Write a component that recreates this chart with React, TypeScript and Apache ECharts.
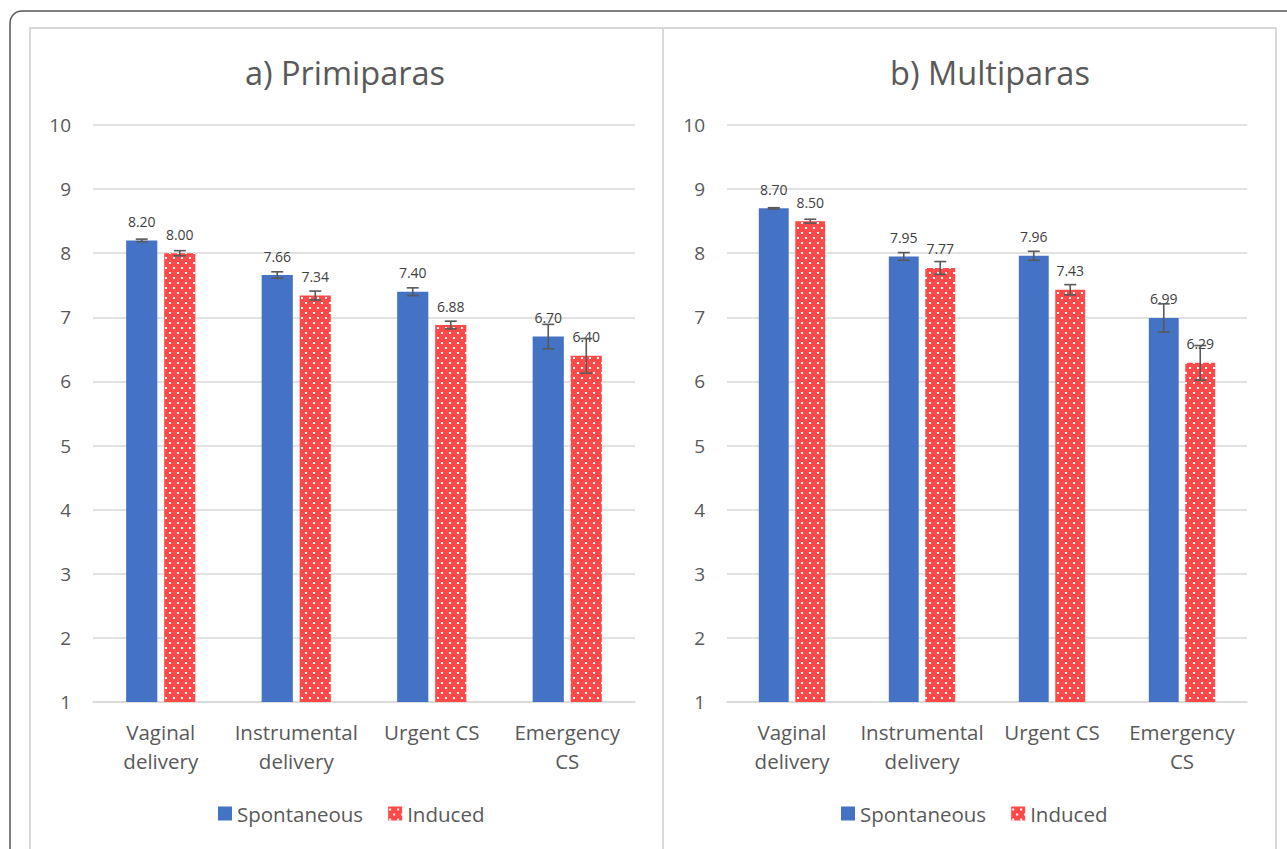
import React, { useEffect, useRef } from "react";
import * as echarts from "echarts";

const categories = ["Vaginal\ndelivery", "Instrumental\ndelivery", "Urgent CS", "Emergency\nCS"];
const seriesNames = ["Spontaneous", "Induced"];
const panelTitles = ["a) Primiparas", "b) Multiparas"];
const yTicks = [1, 10, 1]; // min, max, interval

const primiSpont = [8.2, 7.66, 7.4, 6.7];
const primiInduced = [8.0, 7.34, 6.88, 6.4];
const primiSpontErr = [0.02, 0.05, 0.06, 0.19];
const primiInducedErr = [0.04, 0.07, 0.06, 0.27];

const multiSpont = [8.7, 7.95, 7.96, 6.99];
const multiInduced = [8.5, 7.77, 7.43, 6.29];
const multiSpontErr = [0.01, 0.06, 0.07, 0.22];
const multiInducedErr = [0.03, 0.1, 0.08, 0.27];

const FONT = "'Open Sans', sans-serif";
const BLUE = "#4472C4";
const RED = "#FF4848";
const TEXT = "#595959";
const BAR_FRAC = 0.23;
const GAP_FRAC = 0.22;

function makePattern() {
  const c = document.createElement("canvas");
  c.width = 8;
  c.height = 10;
  const ctx = c.getContext("2d")!;
  ctx.fillStyle = RED;
  ctx.fillRect(0, 0, 8, 10);
  ctx.fillStyle = "#ffffff";
  ctx.fillRect(1, 2, 2, 2);
  ctx.fillRect(5, 7, 2, 2);
  return c;
}

export default function App() {
  const ref = useRef<HTMLDivElement>(null);
  useEffect(() => {
    if (!ref.current) return;
    const chart = echarts.init(ref.current, undefined, { renderer: "svg" });
    const pattern = { image: makePattern(), repeat: "repeat" as const };

    const grids = [
      { left: 93, top: 125, width: 542, height: 577 },
      { left: 727, top: 125, width: 520, height: 577 },
    ];
    const panels = [
      { spont: primiSpont, ind: primiInduced, se: primiSpontErr, ie: primiInducedErr },
      { spont: multiSpont, ind: multiInduced, se: multiSpontErr, ie: multiInducedErr },
    ];

    const xAxis = grids.map((_, i) => ({
      type: "category",
      gridIndex: i,
      data: categories,
      axisTick: { show: false },
      axisLine: { lineStyle: { color: "#d9d9d9", width: 1.5 } },
      axisLabel: {
        color: TEXT,
        fontFamily: FONT,
        fontSize: 20.5,
        lineHeight: 29,
        margin: 15,
        interval: 0,
      },
    }));
    const yAxis = grids.map((_, i) => ({
      type: "value",
      gridIndex: i,
      min: yTicks[0],
      max: yTicks[1],
      interval: yTicks[2],
      axisLine: { show: false },
      axisTick: { show: false },
      splitLine: { lineStyle: { color: "#d9d9d9", width: 1.5 } },
      axisLabel: { color: TEXT, fontFamily: FONT, fontSize: 19, margin: 22 },
    }));

    const errRender = (sign: number) => (params: any, api: any) => {
      const c = api.value(0);
      const v = api.value(1);
      const e = api.value(2);
      const top = api.coord([c, v + e]);
      const bot = api.coord([c, v - e]);
      const bandW = api.size([1, 0])[0];
      const off = (sign * bandW * BAR_FRAC * (1 + GAP_FRAC)) / 2;
      const x = top[0] + off;
      const style = { stroke: "#595959", lineWidth: 1.6 };
      const cap = 6;
      return {
        type: "group",
        children: [
          { type: "line", shape: { x1: x, y1: top[1], x2: x, y2: bot[1] }, style },
          { type: "line", shape: { x1: x - cap, y1: top[1], x2: x + cap, y2: top[1] }, style },
          { type: "line", shape: { x1: x - cap, y1: bot[1], x2: x + cap, y2: bot[1] }, style },
        ],
      };
    };

    const label = {
      show: true,
      position: "top",
      distance: 12,
      color: "#404040",
      fontFamily: FONT,
      fontSize: 14,
      formatter: (p: any) => Number(p.value).toFixed(2),
    };

    const series: any[] = [];
    panels.forEach((p, i) => {
      series.push({
        name: seriesNames[0],
        type: "bar",
        xAxisIndex: i,
        yAxisIndex: i,
        data: p.spont,
        barWidth: `${BAR_FRAC * 100}%`,
        barGap: `${GAP_FRAC * 100}%`,
        itemStyle: { color: BLUE },
        label,
      });
      series.push({
        name: seriesNames[1],
        type: "bar",
        xAxisIndex: i,
        yAxisIndex: i,
        data: p.ind,
        barWidth: `${BAR_FRAC * 100}%`,
        barGap: `${GAP_FRAC * 100}%`,
        itemStyle: { color: pattern },
        label,
      });
      series.push({
        name: `err-s-${i}`,
        type: "custom",
        xAxisIndex: i,
        yAxisIndex: i,
        z: 5,
        renderItem: errRender(-1),
        encode: { x: 0, y: 1 },
        data: p.spont.map((v, k) => [k, v, p.se[k]]),
        silent: true,
      });
      series.push({
        name: `err-i-${i}`,
        type: "custom",
        xAxisIndex: i,
        yAxisIndex: i,
        z: 5,
        renderItem: errRender(1),
        encode: { x: 0, y: 1 },
        data: p.ind.map((v, k) => [k, v, p.ie[k]]),
        silent: true,
      });
    });

    const legendBase = {
      data: seriesNames,
      top: 803,
      padding: 0,
      icon: "rect",
      itemWidth: 14,
      itemHeight: 14,
      itemGap: 25,
      textStyle: { color: TEXT, fontFamily: FONT, fontSize: 20.5 },
      selectedMode: false,
    };

    chart.setOption({
      animation: false,
      backgroundColor: "#ffffff",
      grid: grids,
      xAxis,
      yAxis,
      series,
      legend: [
        { ...legendBase, left: 218 },
        { ...legendBase, left: 841 },
      ],
      graphic: [
        {
          type: "rect",
          shape: { x: 10, y: 11, width: 1320, height: 900, r: 12 },
          style: { fill: "none", stroke: "#555555", lineWidth: 1.5 },
          z: -10,
        },
        {
          type: "rect",
          shape: { x: 30, y: 28, width: 633, height: 860 },
          style: { fill: "none", stroke: "#d9d9d9", lineWidth: 2 },
          z: -10,
        },
        {
          type: "rect",
          shape: { x: 663, y: 28, width: 613, height: 860 },
          style: { fill: "none", stroke: "#d9d9d9", lineWidth: 2 },
          z: -10,
        },
        {
          type: "text",
          x: 345,
          y: 72,
          style: {
            text: panelTitles[0],
            fill: TEXT,
            font: `32.5px ${FONT}`,
            textAlign: "center",
            textVerticalAlign: "middle",
          },
        },
        {
          type: "text",
          x: 990,
          y: 72,
          style: {
            text: panelTitles[1],
            fill: TEXT,
            font: `32.5px ${FONT}`,
            textAlign: "center",
            textVerticalAlign: "middle",
          },
        },
      ],
    });
    return () => chart.dispose();
  }, []);
  return (
    <div
      ref={ref}
      style={{ position: "fixed", left: 0, top: 0, width: 1287, height: 849 }}
    />
  );
}
